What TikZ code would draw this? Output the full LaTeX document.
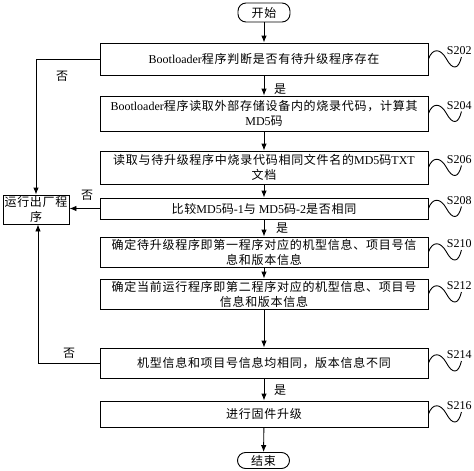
\documentclass[tikz,border=0pt]{standalone}
\usepackage{fontspec}
\setmainfont{Liberation Serif}
\newfontfamily\cjk{Noto Sans CJK SC}[LetterSpace=6]
\usetikzlibrary{arrows.meta}
\begin{document}
\begin{tikzpicture}[x=1pt,y=-1pt,line width=0.9pt,
  txt/.style={font=\fontsize{12}{15}\selectfont},
  box/.style={draw,txt,minimum width=328pt,align=center,inner sep=0pt},
  term/.style={draw,txt,rounded corners=8pt,minimum width=52pt,align=center,inner sep=0pt},
  arr/.style={-{Latex[length=7pt,width=5.5pt]}},
  lab/.style={txt,inner sep=0pt}]
\useasboundingbox (0,0) rectangle (474,471);
\fill[white] (0,0) rectangle (474,471);

\node[term,minimum height=19pt] (start) at (264,12.5) {\cjk 开始};
\node[box,minimum height=32pt] (s202) at (264,59) {Bootloader{\cjk 程序判断是否有待升级程序存在}};
\node[box,minimum height=35pt] (s204) at (264,113.5) {Bootloader{\cjk 程序读取外部存储设备内的烧录代码，计算其}\\MD5{\cjk 码}};
\node[box,minimum height=33pt] (s206) at (264,167.5) {{\cjk 读取与待升级程序中烧录代码相同文件名的}MD5{\cjk 码}TXT\\{\cjk 文档}};
\node[box,minimum height=21pt] (s208) at (264,208.5) {{\cjk 比较}MD5{\cjk 码}-1{\cjk 与} MD5{\cjk 码}-2{\cjk 是否相同}};
\node[box,minimum height=30pt] (s210) at (264,252) {\cjk 确定待升级程序即第一程序对应的机型信息、项目号信\\\cjk 息和版本信息};
\node[box,minimum height=30pt] (s212) at (264,294) {\cjk 确定当前运行程序即第二程序对应的机型信息、项目号\\\cjk 信息和版本信息};
\node[box,minimum height=30pt] (s214) at (264,363) {\cjk 机型信息和项目号信息均相同，版本信息不同};
\node[box,minimum height=26pt] (s216) at (264,414) {\cjk 进行固件升级};
\node[term,minimum height=16pt] (end) at (263.5,460.5) {\cjk 结束};
\node[draw,txt,minimum width=66pt,minimum height=29pt,align=center,inner sep=0pt] (factory) at (36,209.5) {\cjk 运行出厂程\\\cjk 序};

\draw[arr] (start) -- (s202);
\draw[arr] (s202) -- (s204);
\draw[arr] (s204) -- (s206);
\draw[arr] (s206) -- (s208);
\draw[arr] (s208) -- (s210);
\draw[arr] (s210) -- (s212);
\draw[arr] (s212) -- (s214);
\draw[arr] (s214) -- (s216);
\draw[arr] (s216) -- (end);

\draw[arr] (s202.west) -| (factory.north);
\draw[arr] (s208.west) -- (s208.west -| factory.east);
\draw[arr] (s214.west) -| ([xshift=2pt]factory.south);

\node[lab] (y1) at (280,89) {\cjk 是};
\node[lab] (y2) at (282,228) {\cjk 是};
\node[lab] (y3) at (280,390) {\cjk 是};
\node[lab] (n1) at (62,76) {\cjk 否};
\node[lab] (n2) at (87,195) {\cjk 否};
\node[lab] (n3) at (69,353) {\cjk 否};

\foreach \n/\t in {s202/S202,s204/S204,s206/S206,s208/S208,s210/S210,s212/S212,s214/S214,s216/S216}{
  \begin{scope}[shift={(\n.east)}]
    \draw (0,0) .. controls (4,-11) and (12,-11) .. (18,0) .. controls (24,11) and (30,11) .. (33,-2);
    \node[lab,anchor=west] at (18,-8) {\t};
  \end{scope}
}
\end{tikzpicture}
\end{document}
